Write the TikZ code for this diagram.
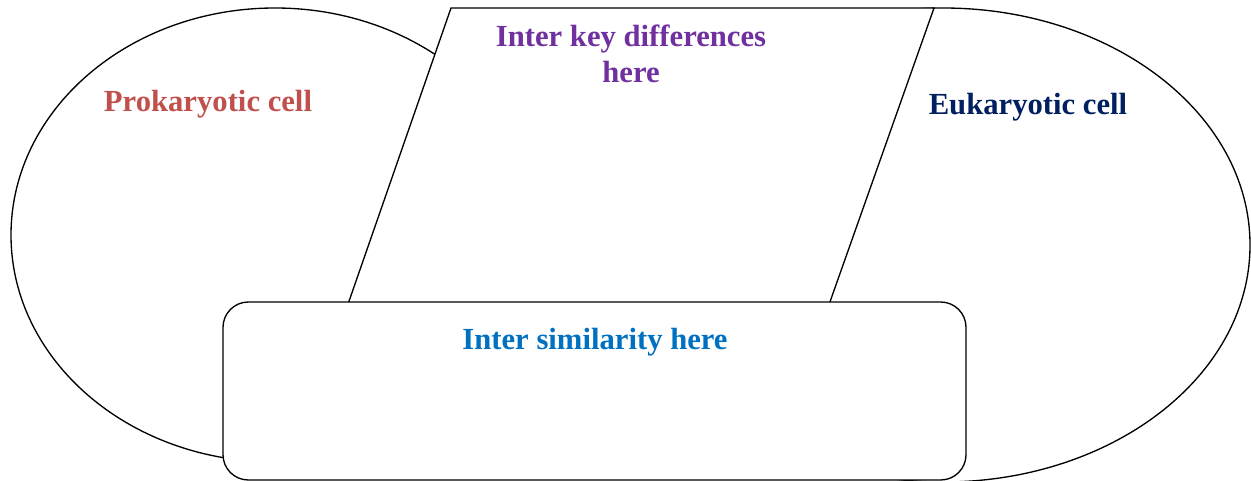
\documentclass[tikz,border=0pt]{standalone}
\usepackage{fontspec}
\setmainfont{Liberation Serif}
\definecolor{prokred}{HTML}{C0504D}
\definecolor{eukblue}{HTML}{002060}
\definecolor{diffpurple}{HTML}{7030A0}
\definecolor{simblue}{HTML}{0070C0}
\tikzset{outline/.style = {draw=black, line width=1pt, fill=white}}
\tikzset{title/.style = {font=\fontsize{23}{27}\selectfont\bfseries, align=center, inner sep=0pt}}
\begin{document}
\begin{tikzpicture}[x=0.75pt, y=-0.75pt]
	\useasboundingbox (0,0) rectangle (1251,481);
	
	% the two cells
	\draw [outline] (275,235) ellipse [x radius=264, y radius=227];
	\draw [outline] (943,245) ellipse [x radius=307, y radius=237];
	
	% differences and similarity boxes
	\draw [outline] (451,8) -- (934,8) -- (820,330) -- (339,330) -- cycle;
	\draw [outline, rounded corners=19pt] (223,302) rectangle (966,480);
	
	\node (prok) [title, text=prokred, anchor=base] 	at (208,112) {Prokaryotic cell};
	\node (euk) 	[title, text=eukblue, anchor=base] 	at (1028,115) {Eukaryotic cell};
	\node (diff) [title, text=diffpurple] 			at (631,54) {Inter key differences\\here};
	\node (sim) 	[title, text=simblue, anchor=base] 	at (595,349) {Inter similarity here};
\end{tikzpicture}
\end{document}
